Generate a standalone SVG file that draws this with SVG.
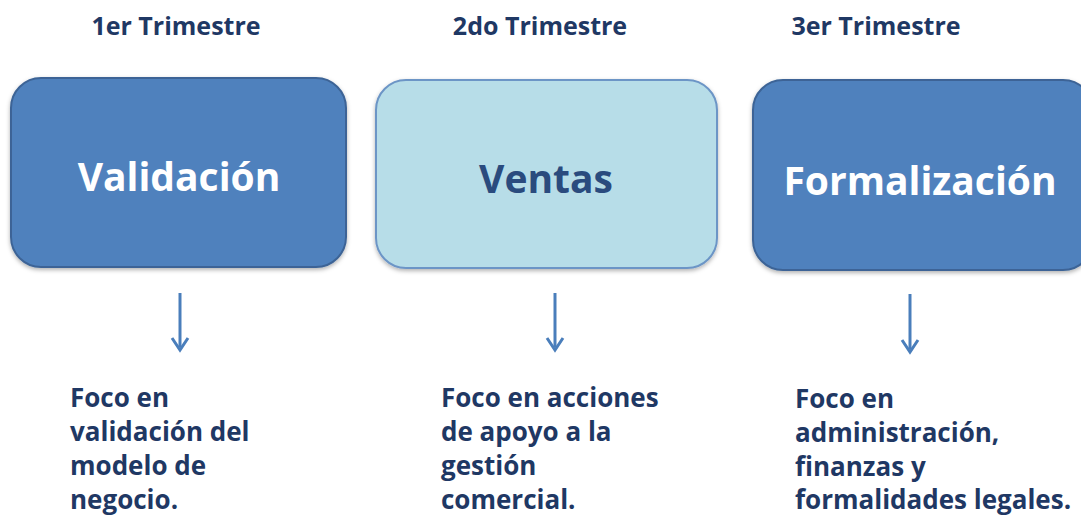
<svg xmlns="http://www.w3.org/2000/svg" width="1081" height="516" viewBox="0 0 1081 516">
<defs>
<style>
.hdr{font-family:"Open Sans","Noto Sans",sans-serif;font-weight:700;font-size:25px;fill:#1F3864;text-anchor:middle}
.title{font-family:"Open Sans","Noto Sans",sans-serif;font-weight:700;font-size:39px;text-anchor:middle}
.body{font-family:"Open Sans","Noto Sans",sans-serif;font-weight:700;font-size:26px;fill:#1F3864}
.dark{fill:#4F81BD;stroke:#3C6496;stroke-width:2}
.light{fill:#B7DDE8;stroke:#6C95C6;stroke-width:2}
.arr{stroke:#4A7EBB;stroke-width:3;fill:none}
</style>
<filter id="sh" x="-10%" y="-10%" width="120%" height="125%">
<feDropShadow dx="0" dy="2" stdDeviation="2" flood-color="#000" flood-opacity="0.3"/>
</filter>
</defs>
<g id="headers">
<text class="hdr" x="176" y="35">1er Trimestre</text>
<text class="hdr" x="540" y="35">2do Trimestre</text>
<text class="hdr" x="876" y="35">3er Trimestre</text>
</g>
<g id="node-validacion">
<rect class="dark" x="11" y="78" width="335" height="189" rx="30" filter="url(#sh)"/>
<text class="title" x="179" y="191" fill="#fff">Validación</text>
</g>
<g id="node-ventas">
<rect class="light" x="376" y="80" width="341" height="188" rx="30" filter="url(#sh)"/>
<text class="title" x="546" y="193" fill="#2A4B7E">Ventas</text>
</g>
<g id="node-formalizacion">
<rect class="dark" x="753" y="80" width="340" height="190" rx="30" filter="url(#sh)"/>
<text class="title" x="920" y="195" fill="#fff">Formalización</text>
</g>
<g id="connectors">
<path class="arr" d="M180,293 V347"/>
<path class="arr" d="M172,338 L180,350 L188,338"/>
<path class="arr" d="M555,293 V347"/>
<path class="arr" d="M547,338 L555,350 L563,338"/>
<path class="arr" d="M910,294 V349"/>
<path class="arr" d="M902,340 L910,352 L918,340"/>
</g>
<g id="text-1">
<text class="body" x="70" y="407">Foco en</text>
<text class="body" x="70" y="441">validación del</text>
<text class="body" x="70" y="475">modelo de</text>
<text class="body" x="70" y="509">negocio.</text>
</g>
<g id="text-2">
<text class="body" x="441" y="407">Foco en acciones</text>
<text class="body" x="441" y="441">de apoyo a la</text>
<text class="body" x="441" y="475">gestión</text>
<text class="body" x="441" y="509">comercial.</text>
</g>
<g id="text-3">
<text class="body" x="795" y="408">Foco en</text>
<text class="body" x="795" y="442">administración,</text>
<text class="body" x="795" y="476">finanzas y</text>
<text class="body" x="795" y="509">formalidades legales.</text>
</g>
</svg>
